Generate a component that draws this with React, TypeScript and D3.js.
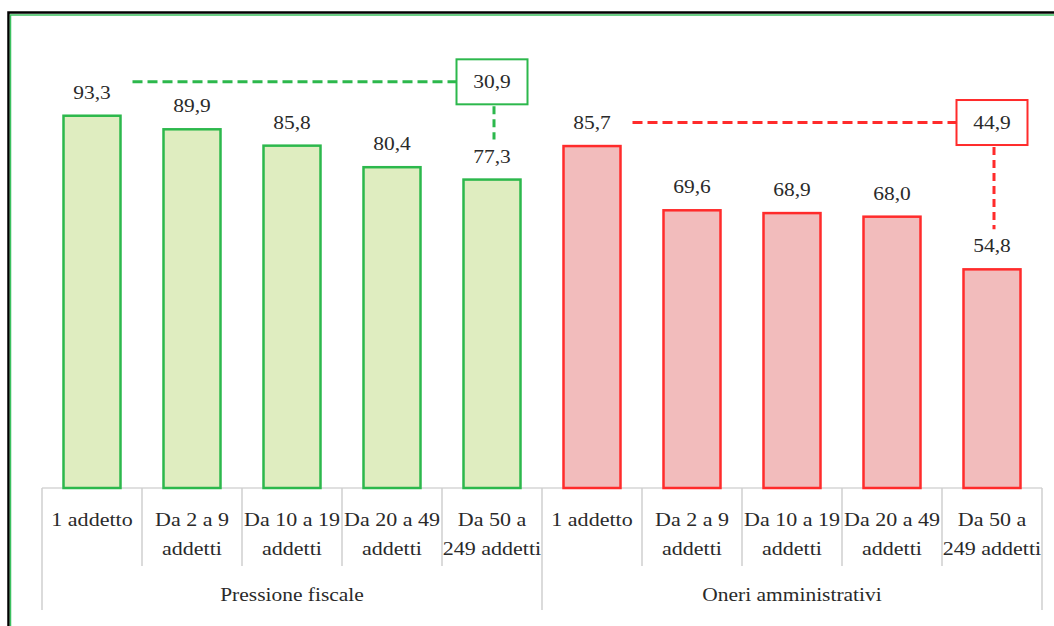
import React from "react";
import * as d3 from "d3";

const groups = ["Pressione fiscale", "Oneri amministrativi"];
const categories = [
  ["1 addetto"],
  ["Da 2 a 9", "addetti"],
  ["Da 10 a 19", "addetti"],
  ["Da 20 a 49", "addetti"],
  ["Da 50 a", "249 addetti"],
];
const pressioneFiscale = [93.3, 89.9, 85.8, 80.4, 77.3];
const oneriAmministrativi = [85.7, 69.6, 68.9, 68.0, 54.8];
const calloutValues = [30.9, 44.9];

const W = 1054;
const H = 626;
const stroke = ["#2cb84c", "#ff2b2b"];
const fill = ["#dfedc0", "#f2bcbc"];
const textColor = "#2a2a2a";
const font = "'Liberation Serif', 'Times New Roman', serif";
const sx = 1.13;
// callout horizontal levels (in value units)
const calloutLevel = [101.8, 91.6];

const fmt = (v: number) => v.toFixed(1).replace(".", ",");

function T({ x, y, s, size = 19, anchor = "middle" }: any) {
  return (
    <text
      transform={`translate(${x},${y}) scale(${sx},1)`}
      textAnchor={anchor}
      fontFamily={font}
      fontSize={size}
      fill={textColor}
    >
      {s}
    </text>
  );
}

export default function App() {
  const series = [pressioneFiscale, oneriAmministrativi];
  const keys: string[] = [];
  groups.forEach((_, g) => categories.forEach((_, c) => keys.push(`${g}-${c}`)));
  const x = d3.scaleBand<string>().domain(keys).range([42, 1042]).paddingInner(0.43).paddingOuter(0.215);
  const xg = d3.scaleBand<string>().domain(groups).range([42, 1042]);
  const y = d3.scaleLinear().domain([0, 100]).range([488, 89]);
  const step = x.step();

  return (
    <svg width={W} height={H} style={{ position: "absolute", left: 0, top: 0 }}>
      <rect x={0} y={0} width={W} height={H} fill="#fff" />
      {/* frame */}
      <rect x={8.5} y={12.5} width={1100} height={700} fill="none" stroke="#000" strokeWidth={2.5} />
      <rect x={10.5} y={15} width={1100} height={700} fill="none" stroke="#3cc060" strokeWidth={1.5} />

      {/* axis */}
      <line x1={42} x2={1042} y1={488} y2={488} stroke="#d6d6d6" strokeWidth={1.5} />
      {keys.map((k, i) => {
        const left = (x(k) as number) - (step - x.bandwidth()) / 2;
        const isGroup = i % categories.length === 0;
        return (
          <line key={"t" + k} x1={left} x2={left} y1={488} y2={isGroup ? 610 : 566} stroke="#cfcfcf" strokeWidth={1.5} />
        );
      })}
      <line x1={1042} x2={1042} y1={488} y2={610} stroke="#cfcfcf" strokeWidth={1.5} />

      {/* bars */}
      {series.map((vals, g) =>
        vals.map((v, c) => {
          const k = `${g}-${c}`;
          const bx = x(k) as number;
          return (
            <g key={k}>
              <rect x={bx} y={y(v)} width={x.bandwidth()} height={y(0) - y(v)} fill={fill[g]} stroke={stroke[g]} strokeWidth={2.5} />
              <T x={bx + x.bandwidth() / 2} y={y(v) - 17} s={fmt(v)} />
            </g>
          );
        })
      )}

      {/* category labels */}
      {keys.map((k, i) => {
        const cx = (x(k) as number) + x.bandwidth() / 2;
        const lines = categories[i % categories.length];
        return lines.map((ln, j) => <T key={k + j} x={cx} y={526 + j * 29} s={ln} size={19.5} />);
      })}
      {groups.map((gname) => (
        <T key={gname} x={(xg(gname) as number) + xg.bandwidth() / 2} y={601} s={gname} size={19} />
      ))}

      {/* callouts */}
      {series.map((vals, g) => {
        const first = x(`${g}-0`) as number;
        const lastK = `${g}-${vals.length - 1}`;
        const lastC = (x(lastK) as number) + x.bandwidth() / 2;
        const ly = y(calloutLevel[g]);
        const bw = 71;
        const bh = 45;
        const lastV = vals[vals.length - 1];
        return (
          <g key={"c" + g}>
            <line x1={first + x.bandwidth() + 12} x2={lastC - bw / 2} y1={ly} y2={ly} stroke={stroke[g]} strokeWidth={3} strokeDasharray="10 5" />
            <line x1={lastC + 2} x2={lastC + 2} y1={ly + bh / 2 + 2} y2={y(lastV) - 40} stroke={stroke[g]} strokeWidth={3} strokeDasharray="8 5" />
            <rect x={lastC - bw / 2} y={ly - bh / 2} width={bw} height={bh} fill="#fff" stroke={stroke[g]} strokeWidth={2} />
            <T x={lastC} y={ly + 6.5} s={fmt(calloutValues[g])} />
          </g>
        );
      })}
    </svg>
  );
}
